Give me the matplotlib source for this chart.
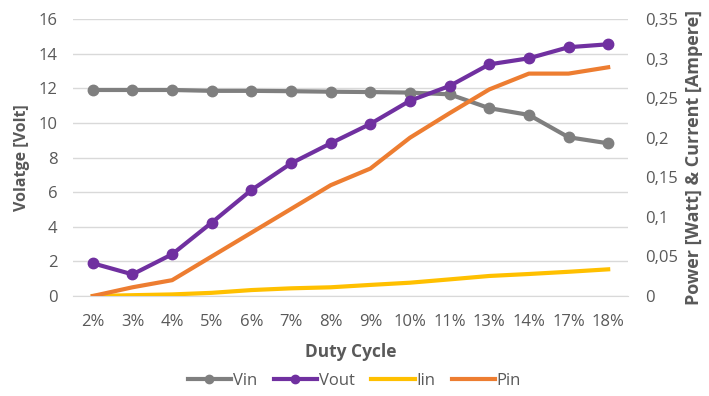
import numpy as np
import matplotlib.pyplot as plt
from matplotlib.ticker import FuncFormatter

duty = ["2%", "3%", "4%", "5%", "6%", "7%", "8%", "9%", "10%", "11%", "13%", "14%", "17%", "18%"]
vin = [11.9, 11.9, 11.9, 11.85, 11.85, 11.83, 11.8, 11.78, 11.75, 11.65, 10.85, 10.46, 9.17, 8.82]
vout = [1.89, 1.25, 2.41, 4.24, 6.12, 7.66, 8.82, 9.94, 11.28, 12.13, 13.38, 13.73, 14.37, 14.54]
iin = [0.0, 0.001, 0.002, 0.004, 0.0075, 0.0097, 0.011, 0.014, 0.0168, 0.021, 0.0253, 0.0278, 0.0306, 0.0337]
pin = [0.0, 0.011, 0.02, 0.05, 0.08, 0.11, 0.14, 0.161, 0.2, 0.231, 0.261, 0.281, 0.281, 0.289]

txt = '#595959'
plt.rcParams['font.family'] = ['Open Sans', 'DejaVu Sans']

fig = plt.figure(figsize=(7.09, 3.96), dpi=100)
ax = fig.add_axes([73/709, 1 - 296/396, 555/709, 277/396])
ax2 = ax.twinx()

x = np.arange(len(duty))
ax.plot(x, vin, color='#7f7f7f', lw=3, marker='o', ms=7.5, label='Vin', zorder=3)
ax.plot(x, vout, color='#7030a0', lw=3, marker='o', ms=7.5, label='Vout', zorder=3)
ax2.plot(x, iin, color='#ffc000', lw=3, label='Iin')
ax2.plot(x, pin, color='#ed7d31', lw=3, label='Pin')

ax.set_xlim(-0.5, len(duty) - 0.5)
ax.set_ylim(0, 16)
ax.set_yticks(np.arange(0, 17, 2))
ax2.set_ylim(0, 0.35)
ax2.set_yticks(np.arange(0, 0.351, 0.05))
ax2.yaxis.set_major_formatter(FuncFormatter(lambda v, p: ('%g' % round(v, 2)).replace('.', ',')))

ax.set_xticks(x)
ax.set_xticklabels(duty)
ax.grid(axis='y', color='#d9d9d9', lw=1)
ax.set_axisbelow(True)
for a in (ax, ax2):
    for s in a.spines.values():
        s.set_visible(False)
    a.tick_params(length=0, colors=txt, labelsize=12)
ax.tick_params(axis='y', pad=11)
ax.tick_params(axis='x', pad=13)
ax2.tick_params(axis='y', pad=12)
ax.spines['bottom'].set_visible(True)
ax.spines['bottom'].set_color('#d9d9d9')

ax.set_ylabel('Volatge [Volt]', color=txt, fontweight='bold', fontsize=11.5, labelpad=6)
ax2.set_ylabel('Power [Watt] & Current [Ampere]', color=txt, fontweight='bold', fontsize=13, labelpad=5)
ax.set_xlabel('Duty Cycle', color=txt, fontweight='bold', fontsize=12.5, labelpad=9)

h1, l1 = ax.get_legend_handles_labels()
h2, l2 = ax2.get_legend_handles_labels()
fig.legend(h1 + h2, l1 + l2, loc='center', bbox_to_anchor=(0.5, 1 - 381/396), ncol=4,
           frameon=False, fontsize=12, labelcolor=txt, handlelength=2.6, columnspacing=1.0,
           handletextpad=0.1, markerscale=0.8)

fig.savefig('out.png', dpi=100)
